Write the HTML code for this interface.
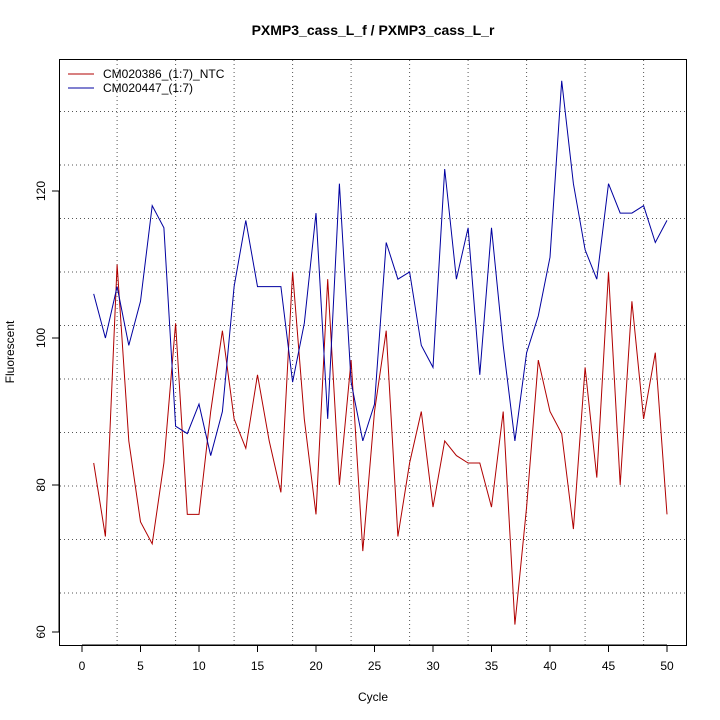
<!DOCTYPE html>
<html><head><meta charset="utf-8"><style>body{margin:0;background:#fff}svg{display:block}text{font-family:"Liberation Sans",sans-serif}</style></head>
<body>
<svg id="s" width="720" height="720" xmlns="http://www.w3.org/2000/svg">
<rect width="720" height="720" fill="#fff"/>
<g id="grid" stroke="#555" stroke-width="1" stroke-dasharray="1,3"></g>
<rect x="59.5" y="59.5" width="627" height="586" fill="none" stroke="#000"/>
<g id="ax" stroke="#000"></g>
<g id="lab" font-size="12" text-anchor="middle"></g>
<polyline id="r" fill="none" stroke="#b00000" stroke-width="1"/>
<polyline id="b" fill="none" stroke="#0000a0" stroke-width="1"/>
<text x="373" y="35" font-size="14" font-weight="bold" text-anchor="middle">PXMP3_cass_L_f / PXMP3_cass_L_r</text>
<text x="373" y="701" font-size="12" text-anchor="middle">Cycle</text>
<text x="14" y="352" font-size="12" text-anchor="middle" transform="rotate(-90 14 352)">Fluorescent</text>
<line x1="68" y1="74" x2="94" y2="74" stroke="#b00000"/>
<line x1="68" y1="88" x2="94" y2="88" stroke="#0000a0"/>
<text x="103" y="78" font-size="12">CM020386_(1:7)_NTC</text>
<text x="103" y="92" font-size="12">CM020447_(1:7)</text>
</svg>
<script>
var X=c=>82+c*11.7, Y=v=>632-(v-60)*7.35;
var red=[83,73,110,86,75,72,83,102,76,76,90,101,89,85,95,86,79,109,89,76,108,80,97,71,90,101,73,83,90,77,86,84,83,83,77,90,61,77,97,90,87,74,96,81,109,80,105,89,98,76];
var blue=[106,100,107,99,105,118,115,88,87,91,84,90,107,116,107,107,107,94,102,117,89,121,94,86,91,113,108,109,99,96,123,108,115,95,115,99,86,98,103,111,135,121,112,108,121,117,117,118,113,116];
function pts(a){return a.map((v,i)=>X(i+1).toFixed(1)+","+Y(v).toFixed(1)).join(" ")}
document.getElementById('r').setAttribute('points',pts(red));
document.getElementById('b').setAttribute('points',pts(blue));
var g='',a='',l='';
for(var c=3;c<=48;c+=5){var x=X(c).toFixed(1);g+=`<line x1="${x}" y1="60" x2="${x}" y2="645"/>`;}
for(var y=593;y>60;y-=53.5){g+=`<line x1="60" y1="${y}" x2="686" y2="${y}"/>`;}
for(var c=0;c<=50;c+=5){var x=X(c).toFixed(1);a+=`<line x1="${x}" y1="645" x2="${x}" y2="652"/>`;l+=`<text x="${x}" y="670">${c}</text>`;}
for(var v=60;v<=120;v+=20){var y=Y(v).toFixed(1);a+=`<line x1="52" y1="${y}" x2="59" y2="${y}"/>`;l+=`<text x="0" y="0" transform="translate(45 ${y}) rotate(-90)" dy="0">${v}</text>`;}
a+=`<line x1="59" y1="${Y(60)}" x2="59" y2="${Y(120)}"/><line x1="${X(0)}" y1="645" x2="${X(50)}" y2="645"/>`;
document.getElementById('grid').innerHTML=g;document.getElementById('ax').innerHTML=a;document.getElementById('lab').innerHTML=l;
</script>
</body></html>
